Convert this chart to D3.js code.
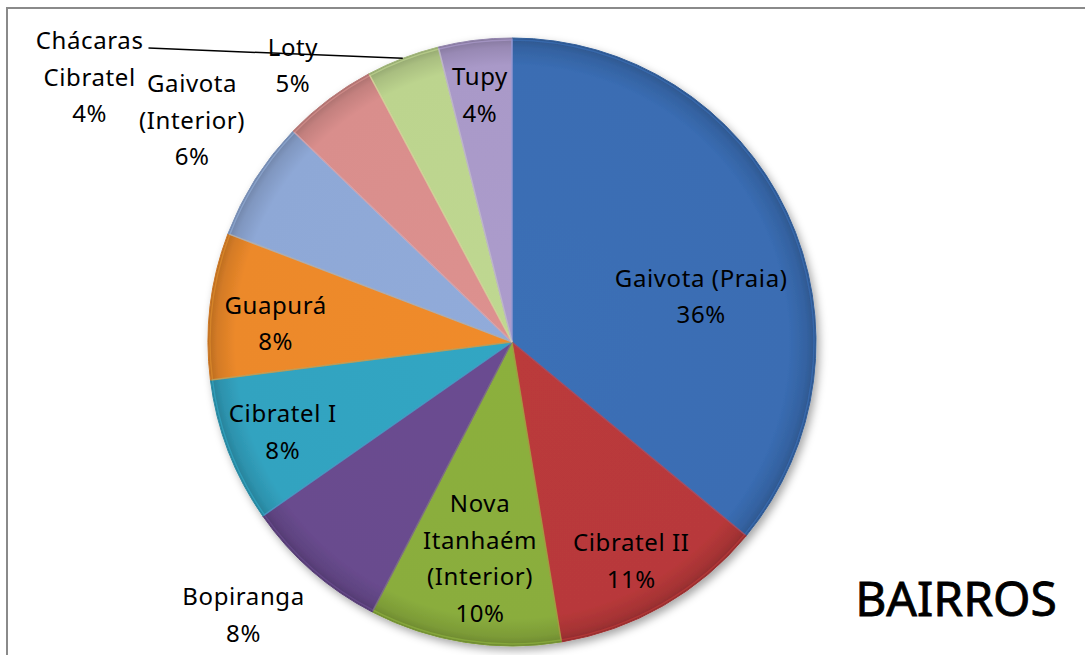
<!doctype html>
<html lang="pt">
<head>
    <meta charset="UTF-8">
    <title>Bairros</title>
    <script src="https://d3js.org/d3.v7.min.js"></script>
    <style>
        body { margin: 0; background: #fff; }
        text { font-family: "Noto Sans", "Open Sans", sans-serif; }
    </style>
</head>
<body>
<div id="chart-area"></div>

<script>

// data (share of each bairro, in %)
const categories = ['Gaivota (Praia)', 'Cibratel II', 'Nova Itanhaém (Interior)', 'Bopiranga',
    'Cibratel I', 'Guapurá', 'Gaivota (Interior)', 'Loty', 'Chácaras Cibratel', 'Tupy'];
const shares = [36.0, 11.4, 10.2, 7.7, 7.7, 7.8, 6.4, 5.0, 3.9, 3.9];
const labelLines = [
    ['Gaivota (Praia)'], ['Cibratel II'], ['Nova', 'Itanhaém', '(Interior)'], ['Bopiranga'],
    ['Cibratel I'], ['Guapurá'], ['Gaivota', '(Interior)'], ['Loty'], ['Chácaras', 'Cibratel'], ['Tupy']
];
const colors = ['#3a6db3', '#b8393a', '#8aad3d', '#694b8e', '#32a3c0',
    '#ec892a', '#8ea8d6', '#d98e8c', '#bcd48e', '#a999c8'];
const title = 'BAIRROS';

// label placement: [angle in degrees from 12 o'clock, radius as share of pie radius]
const labelPlace = [[76.5, .64], [151.4, .82], [188.4, .72], [224.5, 1.26], [248.6, .81],
    [274.5, .78], [304.7, 1.28], [321.6, 1.16], [302.1, 1.64], [352.6, .82]];

const W = 1085, H = 655;
const cx = 512, cy = 342, R = 304;
const lineH = 36.5, capH = 17;

const svg = d3.select('#chart-area')
    .append('svg')
    .attr('width', W)
    .attr('height', H);

// frame (only top/left edges fall inside the picture)
svg.append('rect')
    .attr('x', 7).attr('y', 8)
    .attr('width', W + 20).attr('height', H + 20)
    .attr('fill', 'none')
    .attr('stroke', '#8a8a8a')
    .attr('stroke-width', 2);

const defs = svg.append('defs');

const shadow = defs.append('filter')
    .attr('id', 'shadow')
    .attr('x', '-20%').attr('y', '-20%')
    .attr('width', '140%').attr('height', '140%');
shadow.append('feDropShadow')
    .attr('dx', 3).attr('dy', 4)
    .attr('stdDeviation', 4)
    .attr('flood-color', '#000')
    .attr('flood-opacity', 0.35);

colors.forEach((c, i) => {
    const grad = defs.append('radialGradient')
        .attr('id', 'grad' + i)
        .attr('gradientUnits', 'userSpaceOnUse')
        .attr('cx', 0).attr('cy', 0).attr('r', R);
    grad.append('stop').attr('offset', '0%').attr('stop-color', d3.color(c).brighter(0.05));
    grad.append('stop').attr('offset', '91%').attr('stop-color', c);
    grad.append('stop').attr('offset', '97%').attr('stop-color', d3.color(c).darker(0.3));
    grad.append('stop').attr('offset', '100%').attr('stop-color', d3.color(c).darker(0.7));
});

const g = svg.append('g')
    .attr('transform', `translate(${cx},${cy})`);

const pie = d3.pie()
    .sort(null)
    .value(d => d);

const arcs = pie(shares);
const total = d3.sum(shares);
const pct = d3.format('.0%');

const arc = d3.arc()
    .innerRadius(0)
    .outerRadius(R);

g.append('g')
    .attr('filter', 'url(#shadow)')
    .selectAll('path')
    .data(arcs)
    .enter()
    .append('path')
        .attr('d', arc)
        .attr('fill', (d, i) => `url(#grad${i})`)
        .attr('stroke', (d, i) => d3.color(colors[i]).darker(0.4))
        .attr('stroke-width', 1)
        .attr('stroke-linejoin', 'round');

// thin highlight along each slice edge, like the bevel in the original
g.append('g')
    .selectAll('path')
    .data(arcs)
    .enter()
    .append('path')
        .attr('d', d3.arc().innerRadius(0).outerRadius(R - 2))
        .attr('fill', 'none')
        .attr('stroke', (d, i) => d3.color(colors[i]).brighter(0.6))
        .attr('stroke-opacity', 0.35)
        .attr('stroke-width', 1.5);

// labels
function labelPoint(i) {
    const a = labelPlace[i][0] * Math.PI / 180;
    const r = labelPlace[i][1] * R;
    return d3.arc().innerRadius(r).outerRadius(r).centroid({ startAngle: a, endAngle: a });
}

const labels = g.append('g');

arcs.forEach((d, i) => {
    const lines = labelLines[i].concat([pct(d.value / total)]);
    const [lx, ly] = labelPoint(i);
    const top = ly - ((lines.length - 1) * lineH + capH) / 2 + capH;
    const t = labels.append('text')
        .attr('text-anchor', 'middle')
        .attr('font-size', 24)
        .attr('letter-spacing', 0.6)
        .attr('fill', '#000');
    lines.forEach((s, k) => {
        t.append('tspan')
            .attr('x', lx)
            .attr('y', top + k * lineH)
            .text(s);
    });

    // leader line for the label pushed far out (Chácaras Cibratel)
    if (labelPlace[i][1] > 1.5) {
        const firstW = t.select('tspan').node().getComputedTextLength();
        const mid = (d.startAngle + d.endAngle) / 2;
        const [ex, ey] = d3.arc().innerRadius(R).outerRadius(R).centroid({ startAngle: mid, endAngle: mid });
        labels.append('line')
            .attr('x1', lx + firstW / 2 + 5)
            .attr('y1', top - 1)
            .attr('x2', ex)
            .attr('y2', ey)
            .attr('stroke', '#000')
            .attr('stroke-width', 1.5);
    }
});

svg.append('text')
    .attr('x', 956)
    .attr('y', 616)
    .attr('text-anchor', 'middle')
    .attr('font-size', 48)
    .attr('fill', '#000')
    .attr('stroke', '#000')
    .attr('stroke-width', 0.8)
    .text(title);

</script>

</body>
</html>
